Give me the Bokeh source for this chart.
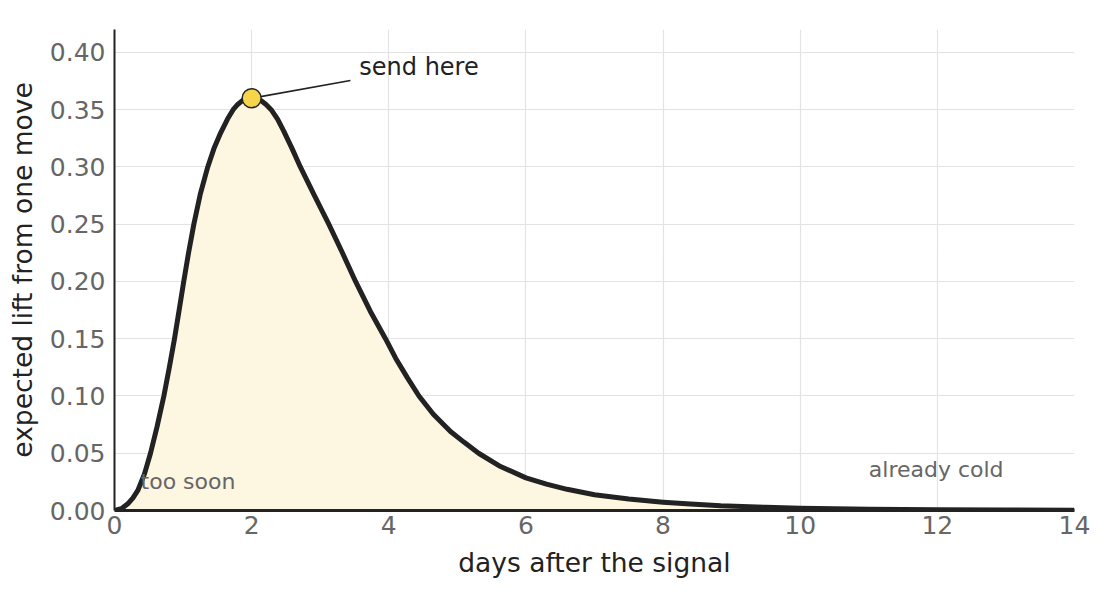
from bokeh.plotting import figure
from bokeh.models import Range1d, FixedTicker, ColumnDataSource, CustomJSTickFormatter
from bokeh.core.properties import value
from bokeh.embed import file_html
from bokeh.resources import INLINE

# Values
days = [0.0, 0.1, 0.194, 0.27, 0.34, 0.4375, 0.525, 0.62, 0.72, 0.8, 0.875, 0.94, 1.01,
        1.08, 1.157, 1.25, 1.36, 1.45, 1.55, 1.65, 1.73, 1.8, 1.87, 1.94, 2.0, 2.07, 2.14,
        2.21, 2.285, 2.38, 2.47, 2.59, 2.71, 2.92, 3.125, 3.32, 3.515, 3.73, 3.952, 4.1,
        4.27, 4.44, 4.65, 4.9, 5.1, 5.31, 5.63, 6.0, 6.3, 6.6, 7.0, 7.5, 8.0, 8.4, 8.84,
        9.5, 10.0, 11.0, 12.0, 13.0, 14.0]
lift = [0.0, 0.0015, 0.0058, 0.011, 0.0175, 0.032, 0.05, 0.073, 0.10, 0.125, 0.15, 0.174,
        0.20, 0.225, 0.25, 0.276, 0.30, 0.316, 0.330, 0.342, 0.350, 0.3548, 0.3581, 0.3597,
        0.36, 0.3595, 0.3577, 0.3545, 0.35, 0.3415, 0.331, 0.316, 0.30, 0.2745, 0.25,
        0.2255, 0.20, 0.174, 0.15, 0.133, 0.116, 0.10, 0.084, 0.069, 0.0595, 0.05, 0.0384,
        0.0285, 0.023, 0.0185, 0.0137, 0.0100, 0.0073, 0.0056, 0.0041, 0.0028, 0.002,
        0.0012, 0.0007, 0.0004, 0.0002]

peak_day = [2.0]
peak_lift = [0.36]

x_ticks = [0, 2, 4, 6, 8, 10, 12, 14]
y_ticks = [0.0, 0.05, 0.10, 0.15, 0.20, 0.25, 0.30, 0.35, 0.40]

FONT = "DejaVu Sans"
DARK = "#222222"
GREY = "#666666"

p = figure(width=1112, height=600, output_backend="svg", toolbar_location=None,
           x_range=Range1d(0, 14), y_range=Range1d(0, 0.42),
           min_border_left=114, min_border_right=38, min_border_top=29, min_border_bottom=90)
p.outline_line_color = None
p.background_fill_color = "white"
p.border_fill_color = "white"

src = ColumnDataSource(dict(x=days, y=lift))
p.varea(x="x", y1=0, y2="y", source=src, fill_color="#fdf6e1", fill_alpha=1.0)
p.line(x="x", y="y", source=src, line_color=DARK, line_width=5, line_join="round")

# annotation
p.segment(x0=[2.05], y0=[0.3605], x1=[3.44], y1=[0.3755], line_color=DARK, line_width=1.6)
p.scatter(x=peak_day, y=peak_lift, size=19, fill_color="#f6d44c", line_color=DARK, line_width=1.5)
p.text(x=[3.57], y=[0.387], text=["send here"], text_font=value(FONT), text_font_size="24px",
       text_color=DARK, text_baseline="middle", text_align="left")
p.text(x=[0.38], y=[0.0255], text=["too soon"], text_font=value(FONT), text_font_size="22px",
       text_color=GREY, text_baseline="middle", text_align="left")
p.text(x=[11.0], y=[0.0358], text=["already cold"], text_font=value(FONT), text_font_size="22px",
       text_color=GREY, text_baseline="middle", text_align="left")

for ax in (p.xaxis[0], p.yaxis[0]):
    ax.major_tick_line_color = None
    ax.minor_tick_line_color = None
    ax.major_tick_out = 0
    ax.major_tick_in = 0
    ax.major_label_text_font = FONT
    ax.major_label_text_font_size = "25px"
    ax.major_label_text_color = GREY
    ax.axis_label_text_font = FONT
    ax.axis_label_text_font_size = "26.5px"
    ax.axis_label_text_color = DARK
    ax.axis_label_text_font_style = "normal"
    ax.axis_line_color = DARK

p.xaxis.ticker = FixedTicker(ticks=x_ticks)
p.yaxis.ticker = FixedTicker(ticks=y_ticks)
p.yaxis.formatter = CustomJSTickFormatter(code="return tick.toFixed(2);")
p.xaxis.axis_label = "days after the signal"
p.yaxis.axis_label = "expected lift from one move"
p.xaxis.axis_line_width = 3
p.yaxis.axis_line_width = 2
p.xaxis.major_label_standoff = 5
p.yaxis.major_label_standoff = 9
p.xaxis.axis_label_standoff = 10
p.yaxis.axis_label_standoff = 9

p.xgrid.ticker = FixedTicker(ticks=x_ticks)
p.ygrid.ticker = FixedTicker(ticks=y_ticks)
p.grid.grid_line_color = "#e3e3e3"
p.grid.grid_line_width = 1.2

open("out.html", "w").write(file_html(p, INLINE))
